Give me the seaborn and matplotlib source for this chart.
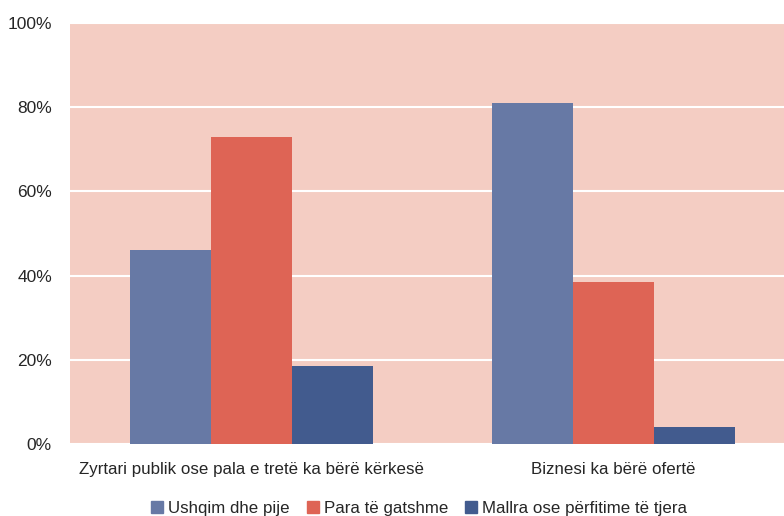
import matplotlib.pyplot as plt
import seaborn as sns
import pandas as pd
from matplotlib.ticker import PercentFormatter
from matplotlib.patches import Patch

categories = ["Zyrtari publik ose pala e tretë ka bërë kërkesë", "Biznesi ka bërë ofertë"]
series = ["Ushqim dhe pije", "Para të gatshme", "Mallra ose përfitime të tjera"]
food = [46, 81]
cash = [73, 38.5]
goods = [18.5, 4]
colors = ["#6779A5", "#DE6455", "#425B8E"]

rows = []
for name, vals in zip(series, [food, cash, goods]):
    for cat, v in zip(categories, vals):
        rows.append({"category": cat, "series": name, "value": v})
df = pd.DataFrame(rows)

sns.set_style("white")
plt.rcParams["font.family"] = ["Liberation Sans", "DejaVu Sans"]

fig = plt.figure(figsize=(7.84, 5.16), dpi=100)
ax = fig.add_axes([70 / 784, 1 - 444 / 516, 725 / 784, 421 / 516])
ax.set_facecolor("#F4CDC3")
sns.barplot(data=df, x="category", y="value", hue="series", hue_order=series,
            order=categories, palette=colors, width=0.67, saturation=1,
            ax=ax, legend=False, edgecolor="none")

ax.set_ylim(0, 100)
ax.set_yticks([0, 20, 40, 60, 80, 100])
ax.yaxis.set_major_formatter(PercentFormatter(decimals=0))
ax.grid(axis="y", color="white", linewidth=1.5)
ax.set_axisbelow(True)
for s in ax.spines.values():
    s.set_visible(False)
ax.tick_params(axis="y", length=0, pad=13, labelsize=12.5)
ax.tick_params(axis="x", length=0, pad=13, labelsize=12.2)
ax.set_xlabel("")
ax.set_ylabel("")

handles = [Patch(color=c, label=l) for c, l in zip(colors, series)]
fig.legend(handles=handles, loc="center", bbox_to_anchor=(419 / 784, 1 - 508 / 516),
           ncol=3, frameon=False, fontsize=12.2, handlelength=0.7, handleheight=0.7,
           handletextpad=0.3, columnspacing=1.0)

fig.savefig("out.png", dpi=100)
